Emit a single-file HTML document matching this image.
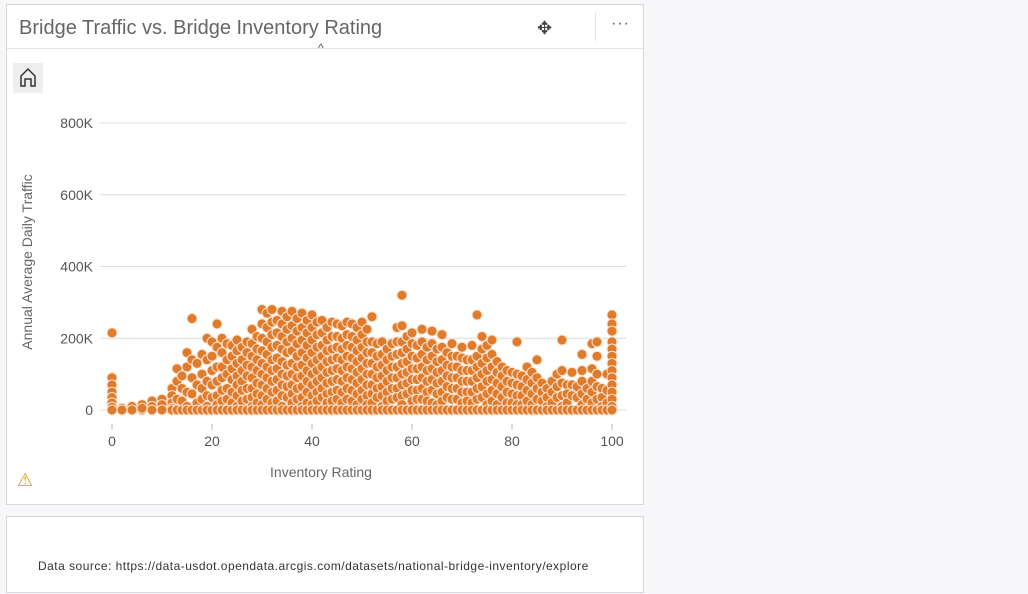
<!DOCTYPE html>
<html><head><meta charset="utf-8"><style>
body{margin:0;width:1028px;height:594px;background:#f7f7f9;font-family:"Liberation Sans",sans-serif;position:relative;overflow:hidden}
.panel{position:absolute;left:6px;top:4px;width:636px;height:499px;background:#fff;border:1px solid #d8d8d8}
.title{position:absolute;left:12px;top:12px;font-size:20px;color:#666}
.hdr{position:absolute;left:0;top:43px;width:636px;border-top:1px solid #e4e4e4}
.src{position:absolute;left:6px;top:516px;width:636px;height:75px;background:#fff;border:1px solid #d8d8d8}
</style></head><body>
<div class="panel">
<div class="title">Bridge Traffic vs. Bridge Inventory Rating</div>
<div style="position:absolute;left:530px;top:13px;font-size:18px;color:#444">✥</div>
<div style="position:absolute;left:588px;top:8px;height:28px;border-left:1px solid #e4e4e4"></div>
<div style="position:absolute;left:604px;top:10px;font-size:16px;color:#555;letter-spacing:1px">···</div>
<div class="hdr"></div>
<div style="position:absolute;left:311px;top:36px;font-size:12px;color:#555">^</div>
<div style="position:absolute;left:6px;top:58px;width:30px;height:30px;background:#eee">
<svg width="30" height="30"><path d="M8 23V13L15 6L22 13V23H18V16H12V23Z" fill="none" stroke="#333" stroke-width="1.5"/></svg></div>
<div style="position:absolute;left:10px;top:465px;font-size:18px;color:#d4a300">⚠</div>
</div>
<div class="src">
<div style="position:absolute;left:31px;top:42px;font-size:12px;color:#333;letter-spacing:0.48px">Data source: https://data-usdot.opendata.arcgis.com/datasets/national-bridge-inventory/explore</div>
</div>
<svg id="chart" width="1028" height="594" style="position:absolute;left:0;top:0"></svg>
<script>
const yTicks=[0,200,400,600,800];
const yTickLabels=["0","200K","400K","600K","800K"];
const xTicks=[0,20,40,60,80,100];
const ratings=[0,2,4,6,8,10,12,13,14,15,16,17,18,19,20,21,22,23,24,25,26,27,28,29,30,31,32,33,34,35,36,37,38,39,40,41,42,43,44,45,46,47,48,49,50,51,52,53,54,55,56,57,58,59,60,61,62,63,64,65,66,67,68,69,70,71,72,73,74,75,76,77,78,79,80,81,82,83,84,85,86,87,88,89,90,91,92,93,94,95,96,97,98,99,100];
const traffic=[
[215,90,70,50,35,20,8,0],[5,0],[10,0],[15,0,5],[25,10,0],[30,15,0],[60,40,20,5,0],[115,80,30,0],[95,60,25,0],[160,120,50,10,0],[255,140,90,45,0],[130,70,20,0],[155,100,60,30,0],[200,140,80,40,10,0],[190,150,110,70,35,0],[240,175,120,80,40,15,0],[200,160,120,90,55,25,0],[185,140,100,60,30,0],[180,150,115,85,50,20,0],[195,165,130,95,70,40,10,0],[175,140,110,80,55,25,0],[190,160,125,95,60,30,0],[225,185,150,120,90,60,35,10,0],[205,170,140,110,75,45,20,0],[280,240,200,165,130,100,70,40,15,0],[270,230,190,155,120,90,60,30,0],[280,245,210,175,140,110,80,50,20,0],[250,215,180,145,115,85,55,25,0],[275,240,205,170,135,100,70,40,10,0],[260,225,190,160,125,95,65,35,0],[275,235,200,165,130,100,70,45,20,0],[255,220,185,150,120,90,60,30,0],[270,230,195,160,125,95,65,35,10,0],[250,215,180,145,110,80,50,20,0],[265,230,195,160,130,100,70,40,15,0],[245,210,175,140,110,80,50,25,0],[250,215,180,150,120,90,60,35,0],[230,195,165,135,105,75,45,20,0],[245,205,170,140,110,80,50,25,0],[240,205,175,145,115,85,55,30,0],[235,200,170,140,110,80,50,20,0],[245,210,180,150,120,90,60,30,0],[240,205,175,145,115,85,55,25,0],[230,195,165,135,105,75,45,15,0],[245,210,175,145,115,85,55,30,0],[225,190,160,130,100,70,40,15,0],[260,190,160,130,100,70,45,20,0],[185,150,120,90,60,35,0],[190,155,125,95,65,40,10,0],[170,140,110,80,50,25,0],[185,150,120,90,60,30,0],[230,190,155,120,90,60,35,0],[320,235,190,160,130,100,70,40,15,0],[205,170,135,105,75,45,0],[215,185,150,115,85,55,25,0],[180,145,115,85,55,30,0],[225,190,155,120,90,60,30,0],[175,140,110,80,50,25,0],[220,185,150,115,85,55,20,0],[170,135,105,75,45,15,0],[210,175,140,110,80,50,25,0],[160,125,95,65,35,0],[185,150,120,90,60,30,0],[150,120,90,60,30,0],[175,145,110,80,50,20,0],[140,110,80,50,25,0],[180,140,110,80,50,20,0],[265,150,120,90,60,30,0],[205,170,130,100,65,35,0],[180,145,110,80,45,15,0],[195,155,120,85,55,25,0],[135,105,75,45,15,0],[120,95,65,35,0],[110,80,50,20,0],[105,75,45,20,0],[190,100,70,40,15,0],[95,65,40,15,0],[120,85,55,25,0],[105,75,45,15,0],[140,90,60,30,0],[75,50,25,0],[60,35,10,0],[80,50,20,0],[100,65,35,0],[195,110,75,40,10,0],[70,45,20,0],[105,70,40,0],[65,35,0],[155,110,80,45,15,0],[60,30,0],[185,115,80,50,20,0],[190,150,100,65,30,0],[60,35,10,0],[100,55,20,0],[265,240,220,190,170,150,130,110,90,70,50,30,10,0]];
const svg=document.getElementById('chart');const NS='http://www.w3.org/2000/svg';
const xS=v=>112+v*5;const yS=v=>410-v*(287/800);
function mk(t,a,txt){const e=document.createElementNS(NS,t);for(const k in a)e.setAttribute(k,a[k]);if(txt!==undefined)e.textContent=txt;svg.appendChild(e);return e;}
yTicks.forEach((t,i)=>{
const g=mk('line',{x1:100,x2:626,y1:yS(t),y2:yS(t),stroke:'#dcdcdc','stroke-width':1});


const l=mk('text',{x:93,y:yS(t)+5,'text-anchor':'end','font-size':14,fill:'#555','font-family':'Liberation Sans'},yTickLabels[i]);


});
xTicks.forEach(t=>{
const tk=mk('line',{x1:xS(t),x2:xS(t),y1:424,y2:430,stroke:'#bbb'});


const l=mk('text',{x:xS(t),y:446,'text-anchor':'middle','font-size':14,fill:'#555','font-family':'Liberation Sans'},String(t));


});
ratings.forEach((r,i)=>{traffic[i].forEach(v=>{
const c=mk('circle',{cx:xS(r),cy:yS(v),r:5,fill:'#e07b2c',stroke:'#fbe3d2','stroke-width':1});


});});
const xt=mk('text',{x:321,y:477,'text-anchor':'middle','font-size':14,fill:'#666','font-family':'Liberation Sans'},'Inventory Rating');


const yt=mk('text',{x:0,y:0,transform:'translate(32,262) rotate(-90)','text-anchor':'middle','font-size':14,fill:'#666','font-family':'Liberation Sans'},'Annual Average Daily Traffic');


</script>
</body></html>
